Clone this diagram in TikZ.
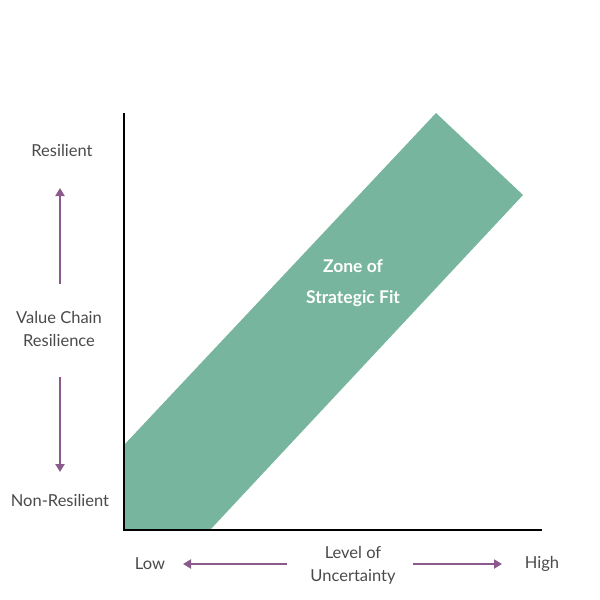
\documentclass[tikz,border=0pt]{standalone}
\usepackage{fontspec}
\setmainfont{Lato}
\usepackage{xcolor}
\usepackage{tikz}
\usetikzlibrary{arrows.meta}
\usetikzlibrary{positioning}
\definecolor{zonegreen}{HTML}{78B59E}
\definecolor{arrowpurple}{HTML}{8A5A8C}
\definecolor{labelgray}{HTML}{4A4A4A}
\tikzset{
  lbl/.style={text=labelgray, font=\fontsize{16.5}{23}\selectfont, align=center, inner sep=0pt},
  axisline/.style={line width=2.5pt, black},
  purplearrow/.style={-{Triangle[length=8pt,width=9pt]}, line width=2.8pt, arrowpurple}
}
\begin{document}
\begin{tikzpicture}[x=1pt,y=-1pt]
    \useasboundingbox (0,0) rectangle (600,600);
    % band
    \fill[zonegreen] (124,445) -- (436,113) -- (523,195) -- (210,530) -- (124,530) -- cycle;
    \node[text=white, font=\bfseries\fontsize{17.5}{31}\selectfont, align=center, inner sep=0pt] (Z) at (353,283) {Zone of\\Strategic Fit};
    % axes
    \coordinate (O) at (124,530);
    \coordinate (Ytop) at (124,113);
    \coordinate (Xend) at (542,530);
    \draw[axisline] (Ytop) -- (O) -- (Xend);
    % labels
    \node[lbl] (R) at (62,150) {Resilient};
    \node[lbl] (V) at (59,329) {Value Chain\\Resilience};
    \node[lbl] (N) at (60,500) {Non-Resilient};
    \node[lbl] (L) at (150,564) {Low};
    \node[lbl] (U) at (353,565) {Level of\\Uncertainty};
    \node[lbl] (H) at (542,564) {High};
    \coordinate (up1) at (60,284);
    \coordinate (up2) at (60,188);
    \coordinate (dn1) at (60,377);
    \coordinate (dn2) at (60,472);
    \coordinate (lf1) at (287,564);
    \coordinate (lf2) at (183,564);
    \coordinate (rt1) at (413,564);
    \coordinate (rt2) at (502,564);
    \path [purplearrow] (up1) edge (up2);
    \path [purplearrow] (dn1) edge (dn2);
    \path [purplearrow] (lf1) edge (lf2);
    \path [purplearrow] (rt1) edge (rt2);
  \end{tikzpicture}
\end{document}
